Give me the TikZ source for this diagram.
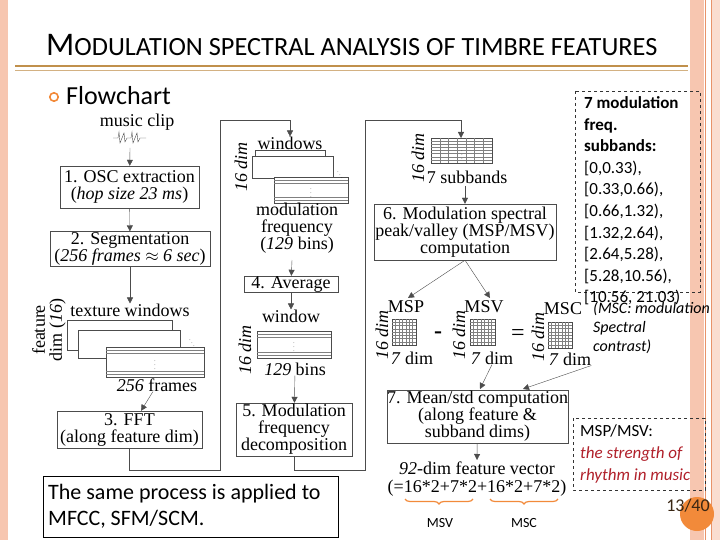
\documentclass[tikz,border=0pt]{standalone}
\usepackage{fontspec}
\setmainfont{Liberation Serif}
\newfontfamily\slidefont{Carlito}
\usetikzlibrary{arrows.meta,positioning,decorations.pathreplacing}
\definecolor{barpink}{HTML}{F7C6B0}
\definecolor{barline}{HTML}{E8936A}
\definecolor{rulebrown}{HTML}{C0904C}
\definecolor{pgorange}{HTML}{F28A3A}
\definecolor{rhythmred}{HTML}{B0202A}
\tikzset{
  stepbox/.style = {draw=black!70, align=center, inner sep=0pt,
    font=\fontsize{18}{17}\selectfont},% processing step
  lbl/.style = {align=center, inner sep=0pt, font=\fontsize{18}{17}\selectfont},
  dimlbl/.style = {lbl, rotate=90, font=\fontsize{18}{16}\selectfont\itshape},
  note/.style = {align=left, inner sep=0pt, anchor=west,
    font=\slidefont\fontsize{17}{21.6}\selectfont},
  flow/.style = {-{Triangle[length=6pt,width=6pt]}, black!70},
  plain/.style = {draw=black!70}
}
% little grid of 16 x 7 cells
\newcommand{\cellgrid}[4]{%
  \draw[black!70] (#1,#2) rectangle (#3,#4);
  \foreach \k in {1,...,6} \draw[black!50] ({#1+(#3-#1)*\k/7},#2) -- ({#1+(#3-#1)*\k/7},#4);
  \foreach \k in {1,...,7} \draw[black!50] (#1,{#2+(#4-#2)*\k/8}) -- (#3,{#2+(#4-#2)*\k/8});}
% sheet with stripes top and bottom
\newcommand{\striped}[4]{%
  \draw[black!70,fill=white] (#1,#2) rectangle (#3,#4);
  \foreach \d in {3,6} {\draw[black!50] (#1,#2+\d) -- (#3,#2+\d);
    \draw[black!50] (#1,#4-\d) -- (#3,#4-\d);}
  \node[font=\tiny] at ({(#1+#3)/2},{(#2+#4)/2}) {$\vdots$};}
\begin{document}
\begin{tikzpicture}[x=1pt,y=-1pt]
\useasboundingbox (0,0) rectangle (720,540);
% slide frame
\fill[barpink] (0,0) rectangle (8,540);
\fill[barpink] (690,0) rectangle (704,540);
\fill[barpink!60] (712,0) rectangle (720,540);
\draw[barline] (705,0) -- (705,540);
\draw[barline] (711,0) -- (711,540);
\node[anchor=west, inner sep=0pt, font=\slidefont] (title) at (46,45)
  {{\fontsize{33}{33}\selectfont M}{\fontsize{26.3}{26}\selectfont ODULATION SPECTRAL ANALYSIS OF TIMBRE FEATURES}};
\draw[rulebrown, line width=1.6pt] (15,66) -- (688,66);
\draw[rulebrown!70, line width=0.5pt] (15,70.5) -- (688,70.5);
\draw[pgorange, line width=1.6pt] (54,97) circle (4.2);
\node[anchor=west, inner sep=0pt, font=\slidefont\fontsize{26}{26}\selectfont] (flow) at (66,96) {Flowchart};

% column 1
\node[lbl] (clip) at (137,122) {music clip};
\draw[black!70] (113,138) -- (118,138) -- (119,132) -- (120,143) -- (122,138) -- (124,133) -- (125,142) -- (127,138)
  -- (131,138) -- (132,132) -- (133,143) -- (135,138) -- (137,133) -- (138,142) -- (140,138) -- (146,138);
\coordinate (clipout) at (130,148);
\node[stepbox, minimum width=139pt, minimum height=42pt] (osc) at (129.5,187)
  {1. OSC extraction\\(\textit{hop size 23 ms})};
\node[stepbox, minimum width=160pt, minimum height=35pt] (seg) at (130,249)
  {2. Segmentation\\(\textit{256 frames} $\approx$ \textit{6 sec})};
\node[lbl] (texture) at (130,310) {texture windows};
\node[lbl, rotate=90] (featdim) at (49,330) {feature\\dim (\textit{16})};
\draw[black!70,fill=white] (67,320) rectangle (172,350);
\draw[black!70,fill=white] (78,330) rectangle (180,358);
\striped{106}{347}{204}{377}
\node[font=\tiny] (tdots) at (192,340) {$\ddots$};
\node[lbl] (frames) at (157,385) {\textit{256} frames};
\node[stepbox, minimum width=145pt, minimum height=37pt] (fft) at (129.5,429.5)
  {3. FFT\\(along feature dim)};
\draw[flow] (clipout) -- (osc);
\draw[flow] (osc) -- (seg);
\draw[flow] (seg) -- (texture);
\draw[flow] (frames) -- (fft);

% column 2
\node[lbl] (windows) at (290,143) {windows};
\node[dimlbl] (wdim) at (241,167) {16 dim};
\draw[black!70,fill=white] (255,150) rectangle (325,176);
\draw[black!70,fill=white] (252,156) rectangle (333,178);
\striped{274}{177}{348}{203}
\node[font=\tiny] (wdots) at (340,172) {$\ddots$};
\node[lbl] (modfreq) at (297,228) {modulation\\frequency\\(\textit{129} bins)};
\node[stepbox, minimum width=94pt, minimum height=16pt] (avg) at (291,284) {4. Average};
\node[lbl] (window) at (291,316) {window};
\striped{257}{331}{331}{358}
\node[dimlbl] (vdim) at (245,350) {16 dim};
\node[lbl] (bins) at (295,369) {\textit{129} bins};
\node[stepbox, minimum width=116pt, minimum height=53pt] (mfd) at (294,429.5)
  {5. Modulation\\frequency\\decomposition};
\draw[flow] (292,260) -- (avg);
\draw[flow] (avg) -- (window);
\draw[flow] (bins) -- (mfd);
\draw[flow] (fft.south) |- (220,470) -- (220,120) -| (windows.north);

% column 3
\cellgrid{431}{138}{492}{163}
\node[font=\tiny] (sdots) at (462,152) {$\vdots$};
\node[dimlbl] (sdim) at (418,158) {16 dim};
\node[lbl] (subbands) at (467,177) {7 subbands};
\coordinate (gridtop) at (461,138);
\draw[flow] (mfd.south) |- (365,470) -- (365,120) -| (gridtop);
\node[stepbox, minimum width=182pt, minimum height=56pt] (msv6) at (465,232)
  {6. Modulation spectral\\peak/valley (MSP/MSV)\\computation};
\draw[flow] (465,186) -- (msv6);
\node[lbl] (msp) at (406,307) {MSP};
\node[lbl] (msv) at (484,307) {MSV};
\node[lbl] (msc) at (563,309) {MSC};
\cellgrid{392}{319}{416}{345}
\cellgrid{470}{319}{495}{345}
\cellgrid{548}{322}{572}{348}
\node[dimlbl] (pdim) at (382,335) {16 dim};
\node[dimlbl] (qdim) at (459,335) {16 dim};
\node[dimlbl] (cdim) at (538,337) {16 dim};
\node[lbl] (pcol) at (412,358) {\textit{7} dim};
\node[lbl] (qcol) at (492,358) {\textit{7} dim};
\node[lbl] (ccol) at (570,359) {\textit{7} dim};
\node[font=\bfseries\fontsize{24}{24}\selectfont] (minus) at (438,335) {-};
\node[font=\fontsize{24}{24}\selectfont] (equal) at (518,335) {=};
\draw[flow] (msv6.south) -- (408,298);
\draw[flow] (msv6.south) -- (490,298);
\node[stepbox, minimum width=177pt, minimum height=53pt] (mean) at (477.5,416.5)
  {7. Mean/std computation\\(along feature \&\\subband dims)};
\draw[flow] (qcol.south) -- (480,389);
\draw[flow] (ccol.south east) -- (523,389);
\node[lbl, font=\fontsize{18}{18.5}\selectfont] (vec) at (477,479) {\textit{92}-dim feature vector\\(=16*2+7*2+16*2+7*2)};
\draw[flow] (mean) -- (477,460);
\draw[pgorange, line width=1.2pt, decorate, decoration={brace, mirror, amplitude=5pt}] (405,499) -- (473,499);
\draw[pgorange, line width=1.2pt, decorate, decoration={brace, mirror, amplitude=5pt}] (490,499) -- (558,499);
\node[font=\slidefont\fontsize{14}{14}\selectfont] (msvb) at (440,523) {MSV};
\node[font=\slidefont\fontsize{14}{14}\selectfont] (mscb) at (524,523) {MSC};

% notes
\draw[dashed, black!80] (575,91) rectangle (700,292);
\node[note] (bands) at (584,201) {\textbf{7 modulation}\\\textbf{freq.}\\\textbf{subbands:}\\{}[0,0.33),\\{}[0.33,0.66),\\{}[0.66,1.32),\\{}[1.32,2.64),\\{}[2.64,5.28),\\{}[5.28,10.56),\\{}[10.56, 21.03)};
\node[note, font=\slidefont\itshape\fontsize{16}{19}\selectfont] (mscnote) at (593,328) {(MSC: modulation\\Spectral\\contrast)};
\draw[dashed, black!80] (573,418) rectangle (705,490);
\node[note] (strength) at (580,454) {MSP/MSV:\\\textcolor{rhythmred}{\itshape the strength of}\\\textcolor{rhythmred}{\itshape rhythm in music}};
\draw[black, thick] (43,476) rectangle (338,537);
\node[note, font=\slidefont\fontsize{22}{26}\selectfont] (same) at (48,506) {The same process is applied to\\MFCC, SFM/SCM.};
\fill[pgorange] (697,514) circle (17);
\node[font=\slidefont\fontsize{18}{18}\selectfont, text=black!70!brown] (page) at (688,506) {13/40};
\end{tikzpicture}
\end{document}
